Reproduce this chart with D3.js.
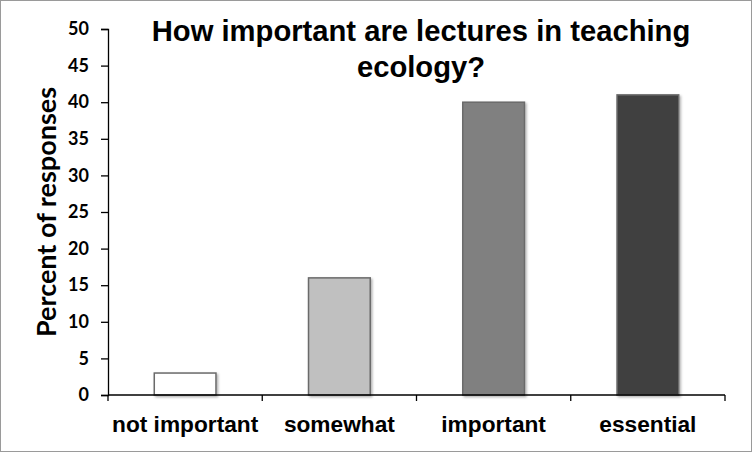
<!DOCTYPE html>
<html><head><meta charset="utf-8">
<script src="https://cdn.jsdelivr.net/npm/d3@7"></script>
<style>body{margin:0;background:#fff}svg{display:block}</style>
</head><body>
<script>
const categories = ["not important", "somewhat", "important", "essential"];
const values = [3, 16, 40, 41];
const colors = ["#ffffff", "#c0c0c0", "#808080", "#404040"];
const yTicks = [0, 5, 10, 15, 20, 25, 30, 35, 40, 45, 50];
const title = ["How important are lectures in teaching", "ecology?"];
const yLabel = "Percent of responses";

const W = 752, H = 452;
const m = {left: 108, right: 27, top: 29, bottom: 57};
const svg = d3.select("body").append("svg").attr("width", W).attr("height", H);
const defs = svg.append("defs");
const f = defs.append("filter").attr("id", "sh").attr("x", "-10%").attr("y", "-10%").attr("width", "130%").attr("height", "130%");
f.append("feDropShadow").attr("dx", 1.5).attr("dy", 1.5).attr("stdDeviation", 1.2).attr("flood-color", "#000").attr("flood-opacity", 0.3);

svg.append("rect").attr("x", 0.5).attr("y", 0.5).attr("width", W - 1).attr("height", H - 1)
  .attr("fill", "#fff").attr("stroke", "#9a9a9a");

const x = d3.scaleBand().domain(categories).range([m.left, W - m.right]).paddingInner(0.6).paddingOuter(0.3);
const y = d3.scaleLinear().domain([0, 50]).range([H - m.bottom, m.top]);

const arial = "'Liberation Sans', Arial, sans-serif";
const cal = "Lato, 'Open Sans', sans-serif";

svg.append("g").selectAll("rect").data(values).join("rect")
  .attr("x", (d, i) => x(categories[i]))
  .attr("y", d => y(d))
  .attr("width", x.bandwidth())
  .attr("height", d => y(0) - y(d))
  .attr("fill", (d, i) => colors[i])
  .attr("stroke", "#6a6a6a").attr("stroke-width", 1.5)
  .attr("filter", "url(#sh)");

const yAxis = svg.append("g").attr("transform", `translate(${m.left},0)`)
  .call(d3.axisLeft(y).tickValues(yTicks).tickSize(7).tickPadding(12));
yAxis.selectAll("text").attr("font-family", cal).attr("font-weight", "bold").attr("font-size", 18).attr("fill", "#000");
yAxis.selectAll("line,path").attr("stroke", "#000").attr("stroke-width", 1.3);

const xAxis = svg.append("g").attr("transform", `translate(0,${y(0)})`);
xAxis.append("line").attr("x1", m.left).attr("x2", W - m.right).attr("stroke", "#000").attr("stroke-width", 1.3);
const step = x.step();
const bounds = d3.range(categories.length + 1).map(i => m.left + i * step);
xAxis.selectAll("line.t").data(bounds).join("line").attr("class", "t")
  .attr("x1", d => d).attr("x2", d => d).attr("y1", 0).attr("y2", 6).attr("stroke", "#000").attr("stroke-width", 1.3);
xAxis.selectAll("text").data(categories).join("text")
  .attr("x", d => x(d) + x.bandwidth() / 2).attr("y", 37)
  .attr("text-anchor", "middle").attr("font-family", arial).attr("font-weight", "bold").attr("font-size", 22.7)
  .text(d => d);

svg.append("text").attr("transform", `translate(56,${(m.top + y(0)) / 2}) rotate(-90)`)
  .attr("text-anchor", "middle").attr("font-family", cal).attr("font-weight", "bold").attr("font-size", 27)
  .text(yLabel);

svg.append("g").selectAll("text").data(title).join("text")
  .attr("x", 421).attr("y", (d, i) => 41 + i * 36)
  .attr("text-anchor", "middle").attr("font-family", arial).attr("font-weight", "bold").attr("font-size", 29.2)
  .text(d => d);
</script>
</body></html>
